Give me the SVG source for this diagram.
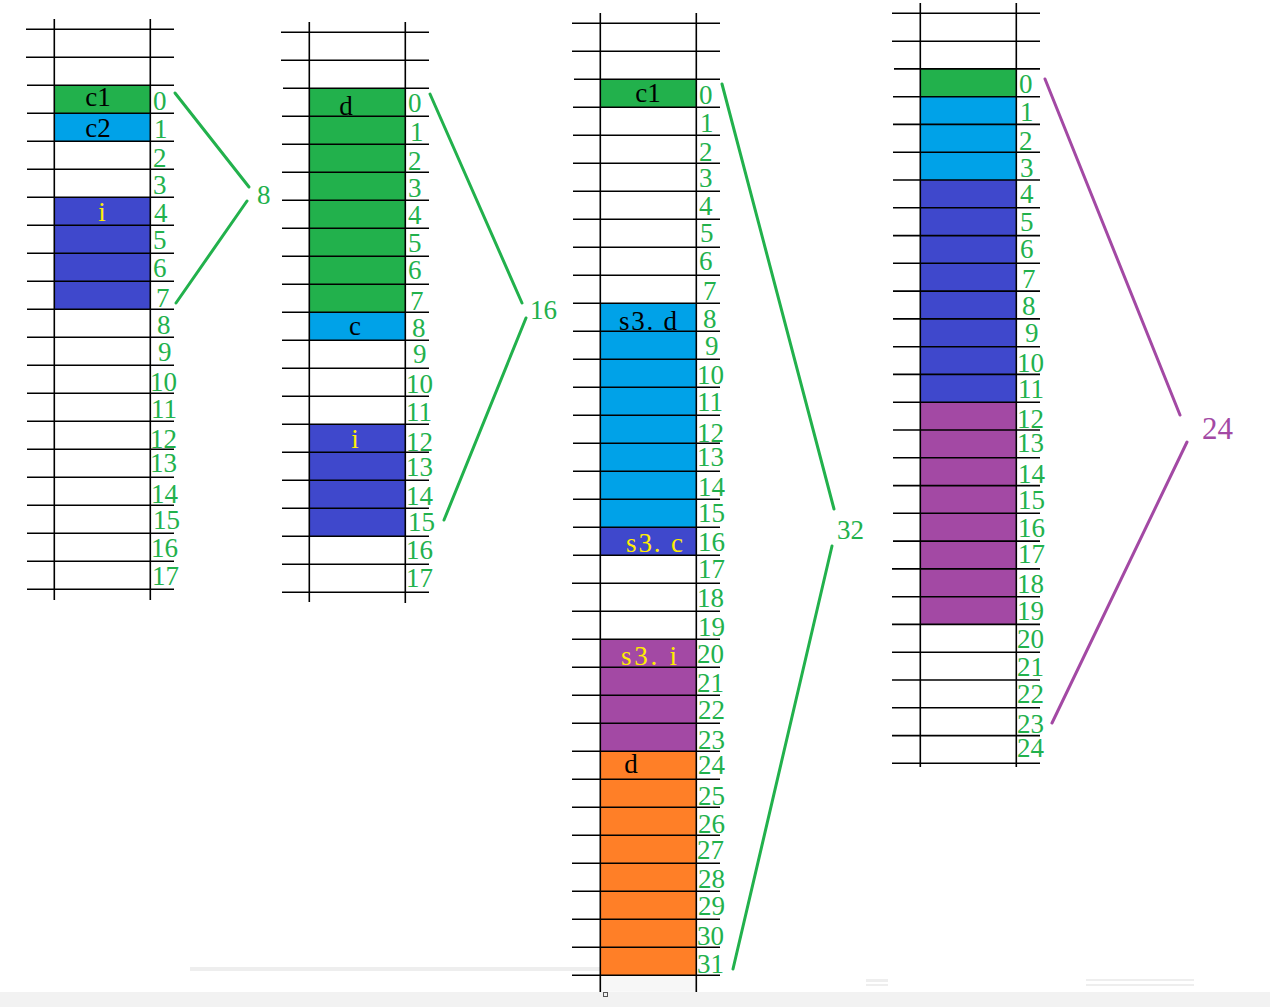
<svg xmlns="http://www.w3.org/2000/svg" width="1270" height="1007" viewBox="0 0 1270 1007">
<style>
.g{fill:#22b14c}.b{fill:#00a2e8}.n{fill:#3f48cc}.p{fill:#a349a4}.o{fill:#ff7f27}
.grid line{stroke:#000;stroke-width:1.6}
.num{font-family:"Liberation Serif","Times New Roman",serif;font-size:27px;fill:#22b14c}
.lbl{font-family:"Liberation Serif","Times New Roman",serif;font-size:27px;fill:#000}
.y{fill:#ffee00}
.con{stroke-width:3;fill:none;stroke-linecap:round}
.cg{stroke:#22b14c}.cp{stroke:#a349a4}
.sz{font-family:"Liberation Serif","Times New Roman",serif;font-size:27px;fill:#22b14c}
</style>
<rect width="1270" height="1007" fill="#fff"/>
<rect x="0" y="992" width="1270" height="15" fill="#f2f2f2"/>
<rect x="190" y="967" width="410" height="4" fill="#eeeeee"/>
<rect x="866" y="979" width="22" height="3" fill="#eeeeee"/>
<rect x="866" y="984" width="22" height="2" fill="#eeeeee"/>
<rect x="1086" y="979" width="108" height="2" fill="#eeeeee"/>
<rect x="1086" y="984" width="108" height="2" fill="#eeeeee"/>

<g id="col1">
<rect class="g" x="54.3" y="85.3" width="96" height="28"/>
<rect class="b" x="54.3" y="113.3" width="96" height="28"/>
<rect class="n" x="54.3" y="197.3" width="96" height="112"/>
<g class="grid">
<line x1="54.3" y1="19" x2="54.3" y2="600"/><line x1="150.3" y1="19" x2="150.3" y2="600"/>
<line x1="26" y1="29.3" x2="174" y2="29.3"/><line x1="26" y1="57.3" x2="174" y2="57.3"/><line x1="27" y1="85.3" x2="174" y2="85.3"/><line x1="27" y1="113.3" x2="174" y2="113.3"/><line x1="27" y1="141.3" x2="174" y2="141.3"/><line x1="27" y1="169.3" x2="174" y2="169.3"/><line x1="27" y1="197.3" x2="174" y2="197.3"/><line x1="27" y1="225.3" x2="174" y2="225.3"/><line x1="27" y1="253.3" x2="174" y2="253.3"/><line x1="27" y1="281.3" x2="174" y2="281.3"/><line x1="27" y1="309.3" x2="174" y2="309.3"/><line x1="27" y1="337.3" x2="174" y2="337.3"/><line x1="27" y1="365.3" x2="174" y2="365.3"/><line x1="27" y1="393.3" x2="174" y2="393.3"/><line x1="27" y1="421.3" x2="174" y2="421.3"/><line x1="27" y1="449.3" x2="174" y2="449.3"/><line x1="27" y1="477.3" x2="174" y2="477.3"/><line x1="27" y1="505.3" x2="174" y2="505.3"/><line x1="27" y1="533.3" x2="174" y2="533.3"/><line x1="27" y1="561.3" x2="174" y2="561.3"/><line x1="27" y1="589.3" x2="174" y2="589.3"/>
</g>
<text class="lbl" x="98" y="106" text-anchor="middle">c1</text>
<text class="lbl" x="98" y="137" text-anchor="middle">c2</text>
<text class="lbl y" x="102" y="221" text-anchor="middle">i</text>
<g class="num">
<text x="153" y="110">0</text><text x="154" y="138">1</text><text x="153" y="167">2</text><text x="153" y="194">3</text><text x="154" y="222">4</text><text x="153" y="249">5</text><text x="153" y="277">6</text><text x="156" y="307">7</text><text x="157" y="334">8</text><text x="158" y="361">9</text><text x="150" y="391">10</text><text x="151" y="418">11</text><text x="150" y="448">12</text><text x="150" y="472">13</text><text x="151" y="503">14</text><text x="153" y="529">15</text><text x="151" y="557">16</text><text x="152" y="585">17</text>
</g>
</g>

<g id="col2">
<rect class="g" x="309.3" y="88.3" width="96" height="224"/>
<rect class="b" x="309.3" y="312.3" width="96" height="28"/>
<rect class="n" x="309.3" y="424.3" width="96" height="112"/>
<g class="grid">
<line x1="309.3" y1="22" x2="309.3" y2="602"/><line x1="405.3" y1="22" x2="405.3" y2="603"/>
<line x1="281" y1="32.3" x2="429" y2="32.3"/><line x1="281" y1="60.3" x2="429" y2="60.3"/><line x1="283" y1="88.3" x2="429" y2="88.3"/><line x1="282" y1="116.3" x2="429" y2="116.3"/><line x1="282" y1="144.3" x2="429" y2="144.3"/><line x1="282" y1="172.3" x2="429" y2="172.3"/><line x1="282" y1="200.3" x2="429" y2="200.3"/><line x1="282" y1="228.3" x2="429" y2="228.3"/><line x1="282" y1="256.3" x2="429" y2="256.3"/><line x1="282" y1="284.3" x2="429" y2="284.3"/><line x1="282" y1="312.3" x2="429" y2="312.3"/><line x1="282" y1="340.3" x2="429" y2="340.3"/><line x1="282" y1="368.3" x2="429" y2="368.3"/><line x1="282" y1="396.3" x2="429" y2="396.3"/><line x1="282" y1="424.3" x2="429" y2="424.3"/><line x1="282" y1="452.3" x2="429" y2="452.3"/><line x1="282" y1="480.3" x2="429" y2="480.3"/><line x1="282" y1="508.3" x2="429" y2="508.3"/><line x1="282" y1="536.3" x2="429" y2="536.3"/><line x1="282" y1="564.3" x2="429" y2="564.3"/><line x1="282" y1="592.3" x2="429" y2="592.3"/>
</g>
<text class="lbl" x="346" y="115" text-anchor="middle">d</text>
<text class="lbl" x="355" y="335" text-anchor="middle">c</text>
<text class="lbl y" x="355" y="448" text-anchor="middle">i</text>
<g class="num">
<text x="408" y="112">0</text><text x="410" y="141">1</text><text x="408" y="170">2</text><text x="408" y="197">3</text><text x="408" y="224">4</text><text x="408" y="252">5</text><text x="408" y="279">6</text><text x="410" y="310">7</text><text x="412" y="337">8</text><text x="413" y="363">9</text><text x="406" y="393">10</text><text x="406" y="421">11</text><text x="406" y="451">12</text><text x="406" y="476">13</text><text x="406" y="505">14</text><text x="408" y="531">15</text><text x="406" y="559">16</text><text x="406" y="587">17</text>
</g>
</g>

<g id="col3">
<rect class="g" x="600.3" y="79.3" width="96" height="28"/>
<rect class="b" x="600.3" y="303.3" width="96" height="224"/>
<rect class="n" x="600.3" y="527.3" width="96" height="28"/>
<rect class="p" x="600.3" y="639.3" width="96" height="112"/>
<rect class="o" x="600.3" y="751.3" width="96" height="224"/>
<rect fill="#f7f7f7" x="600.3" y="975.3" width="96" height="16.4"/>
<g class="grid">
<line x1="600.3" y1="13" x2="600.3" y2="992"/><line x1="696.3" y1="13" x2="696.3" y2="992"/>
<line x1="572" y1="23.3" x2="720" y2="23.3"/><line x1="572" y1="51.3" x2="720" y2="51.3"/><line x1="574" y1="79.3" x2="720" y2="79.3"/><line x1="573" y1="107.3" x2="720" y2="107.3"/><line x1="573" y1="135.3" x2="720" y2="135.3"/><line x1="573" y1="163.3" x2="720" y2="163.3"/><line x1="573" y1="191.3" x2="720" y2="191.3"/><line x1="573" y1="219.3" x2="720" y2="219.3"/><line x1="573" y1="247.3" x2="720" y2="247.3"/><line x1="573" y1="275.3" x2="720" y2="275.3"/><line x1="573" y1="303.3" x2="720" y2="303.3"/><line x1="573" y1="331.3" x2="720" y2="331.3"/><line x1="573" y1="359.3" x2="720" y2="359.3"/><line x1="573" y1="387.3" x2="720" y2="387.3"/><line x1="573" y1="415.3" x2="720" y2="415.3"/><line x1="573" y1="443.3" x2="720" y2="443.3"/><line x1="573" y1="471.3" x2="720" y2="471.3"/><line x1="573" y1="499.3" x2="720" y2="499.3"/><line x1="573" y1="527.3" x2="720" y2="527.3"/><line x1="573" y1="555.3" x2="720" y2="555.3"/><line x1="572" y1="583.3" x2="720" y2="583.3"/><line x1="572" y1="611.3" x2="720" y2="611.3"/><line x1="572" y1="639.3" x2="720" y2="639.3"/><line x1="572" y1="667.3" x2="720" y2="667.3"/><line x1="572" y1="695.3" x2="720" y2="695.3"/><line x1="572" y1="723.3" x2="720" y2="723.3"/><line x1="572" y1="751.3" x2="720" y2="751.3"/><line x1="572" y1="779.3" x2="720" y2="779.3"/><line x1="572" y1="807.3" x2="720" y2="807.3"/><line x1="572" y1="835.3" x2="720" y2="835.3"/><line x1="572" y1="863.3" x2="720" y2="863.3"/><line x1="572" y1="891.3" x2="720" y2="891.3"/><line x1="572" y1="919.3" x2="720" y2="919.3"/><line x1="572" y1="947.3" x2="720" y2="947.3"/><line x1="572" y1="975.3" x2="720" y2="975.3"/>
</g>
<text class="lbl" x="648" y="102" text-anchor="middle">c1</text>
<text class="lbl" x="619" y="330" textLength="58" lengthAdjust="spacing">s3. d</text>
<text class="lbl y" x="626" y="552" textLength="57" lengthAdjust="spacing">s3. c</text>
<text class="lbl y" x="621" y="665" textLength="56" lengthAdjust="spacing">s3. i</text>
<text class="lbl" x="631" y="773" text-anchor="middle">d</text>
<g class="num">
<text x="699" y="104">0</text><text x="700" y="132">1</text><text x="699" y="161">2</text><text x="699" y="187">3</text><text x="699" y="215">4</text><text x="700" y="242">5</text><text x="699" y="270">6</text><text x="703" y="300">7</text><text x="703" y="328">8</text><text x="705" y="355">9</text><text x="697" y="384">10</text><text x="697" y="411">11</text><text x="697" y="442">12</text><text x="697" y="466">13</text><text x="698" y="496">14</text><text x="698" y="522">15</text><text x="698" y="551">16</text><text x="698" y="578">17</text><text x="697" y="607">18</text><text x="698" y="636">19</text><text x="697" y="663">20</text><text x="697" y="692">21</text><text x="698" y="719">22</text><text x="698" y="749">23</text><text x="698" y="774">24</text><text x="698" y="805">25</text><text x="698" y="833">26</text><text x="697" y="859">27</text><text x="698" y="888">28</text><text x="698" y="915">29</text><text x="697" y="945">30</text><text x="697" y="973">31</text>
</g>
<rect x="603.5" y="992.5" width="4" height="4" fill="none" stroke="#555" stroke-width="1"/>
</g>

<g id="col4">
<rect class="g" x="920.3" y="68.9" width="96" height="27.8"/>
<rect class="b" x="920.3" y="96.7" width="96" height="83.3"/>
<rect class="n" x="920.3" y="180" width="96" height="222.2"/>
<rect class="p" x="920.3" y="402.2" width="96" height="222.3"/>
<g class="grid">
<line x1="920.3" y1="3" x2="920.3" y2="767"/><line x1="1016.3" y1="3" x2="1016.3" y2="767"/>
<line x1="892" y1="13.3" x2="1040" y2="13.3"/><line x1="892" y1="41.3" x2="1040" y2="41.3"/><line x1="894" y1="68.9" x2="1040" y2="68.9"/><line x1="893" y1="96.7" x2="1040" y2="96.7"/><line x1="893" y1="124.4" x2="1040" y2="124.4"/><line x1="893" y1="152.2" x2="1040" y2="152.2"/><line x1="893" y1="180" x2="1040" y2="180"/><line x1="893" y1="207.8" x2="1040" y2="207.8"/><line x1="893" y1="235.6" x2="1040" y2="235.6"/><line x1="893" y1="263.3" x2="1040" y2="263.3"/><line x1="893" y1="291.1" x2="1040" y2="291.1"/><line x1="893" y1="318.9" x2="1040" y2="318.9"/><line x1="893" y1="346.7" x2="1040" y2="346.7"/><line x1="893" y1="374.4" x2="1040" y2="374.4"/><line x1="893" y1="402.2" x2="1040" y2="402.2"/><line x1="893" y1="430" x2="1040" y2="430"/><line x1="893" y1="457.8" x2="1040" y2="457.8"/><line x1="893" y1="485.6" x2="1040" y2="485.6"/><line x1="893" y1="513.3" x2="1040" y2="513.3"/><line x1="893" y1="541.1" x2="1040" y2="541.1"/><line x1="892" y1="568.9" x2="1040" y2="568.9"/><line x1="892" y1="596.7" x2="1040" y2="596.7"/><line x1="892" y1="624.4" x2="1040" y2="624.4"/><line x1="892" y1="652.2" x2="1040" y2="652.2"/><line x1="892" y1="680" x2="1040" y2="680"/><line x1="892" y1="707.8" x2="1040" y2="707.8"/><line x1="892" y1="735.6" x2="1040" y2="735.6"/><line x1="892" y1="763.3" x2="1040" y2="763.3"/>
</g>
<g class="num">
<text x="1019" y="93">0</text><text x="1020" y="121">1</text><text x="1019" y="150">2</text><text x="1020" y="177">3</text><text x="1020" y="203">4</text><text x="1020" y="231">5</text><text x="1020" y="258">6</text><text x="1022" y="288">7</text><text x="1022" y="315">8</text><text x="1025" y="342">9</text><text x="1017" y="372">10</text><text x="1018" y="398">11</text><text x="1017" y="428">12</text><text x="1017" y="452">13</text><text x="1018" y="483">14</text><text x="1018" y="509">15</text><text x="1018" y="537">16</text><text x="1018" y="563">17</text><text x="1017" y="593">18</text><text x="1017" y="620">19</text><text x="1017" y="648">20</text><text x="1017" y="676">21</text><text x="1017" y="703">22</text><text x="1017" y="733">23</text><text x="1017" y="757">24</text>
</g>
</g>

<g id="connectors">
<line class="con cg" x1="175" y1="93" x2="249" y2="187"/>
<line class="con cg" x1="247" y1="201" x2="176" y2="303"/>
<line class="con cg" x1="430" y1="94" x2="522" y2="303"/>
<line class="con cg" x1="526" y1="318" x2="444" y2="520"/>
<line class="con cg" x1="722" y1="84" x2="834" y2="509"/>
<line class="con cg" x1="832" y1="546" x2="733" y2="969"/>
<line class="con cp" x1="1045" y1="79" x2="1180" y2="415"/>
<line class="con cp" x1="1187" y1="442" x2="1052" y2="723"/>
</g>

<g id="sizes">
<text class="sz" x="257" y="204">8</text>
<text class="sz" x="530" y="319">16</text>
<text class="sz" x="837" y="539">32</text>
<text class="sz" x="1202" y="439" style="fill:#a349a4;font-size:31px">24</text>
</g>
</svg>
